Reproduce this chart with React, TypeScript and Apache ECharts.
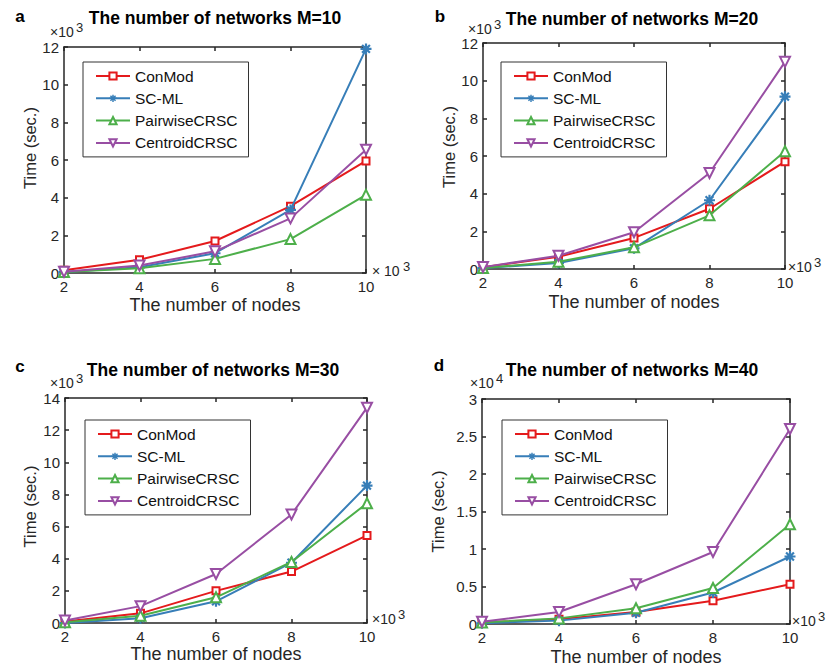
import React, { useEffect, useRef } from 'react';
import * as echarts from 'echarts';

// ---------- data ----------
const nodes = [2, 4, 6, 8, 10]; // ×10^3 nodes
const seriesNames = ['ConMod', 'SC-ML', 'PairwiseCRSC', 'CentroidCRSC'];

// M = 10 (×10^3 sec)
const conModM10 = [0.15, 0.7, 1.7, 3.55, 5.95];
const scmlM10 = [0.05, 0.3, 1.05, 3.35, 11.9];
const pairwiseM10 = [0.05, 0.25, 0.75, 1.8, 4.15];
const centroidM10 = [0.06, 0.4, 1.15, 2.9, 6.55];

// M = 20 (×10^3 sec)
const conModM20 = [0.1, 0.65, 1.65, 3.2, 5.7];
const scmlM20 = [0.05, 0.32, 1.1, 3.65, 9.15];
const pairwiseM20 = [0.05, 0.38, 1.15, 2.85, 6.25];
const centroidM20 = [0.1, 0.7, 1.95, 5.1, 11.0];

// M = 30 (×10^3 sec)
const conModM30 = [0.1, 0.6, 2.0, 3.2, 5.45];
const scmlM30 = [0.0, 0.3, 1.35, 3.75, 8.55];
const pairwiseM30 = [0.05, 0.45, 1.6, 3.8, 7.45];
const centroidM30 = [0.15, 1.05, 3.05, 6.75, 13.4];

// M = 40 (×10^4 sec)
const conModM40 = [0.02, 0.065, 0.16, 0.31, 0.53];
const scmlM40 = [0.01, 0.045, 0.15, 0.42, 0.9];
const pairwiseM40 = [0.02, 0.075, 0.21, 0.48, 1.33];
const centroidM40 = [0.03, 0.16, 0.53, 0.96, 2.6];

const panelTitles = [
  'The number of networks M=10',
  'The number of networks M=20',
  'The number of networks M=30',
  'The number of networks M=40',
];
const panelLetters = ['a', 'b', 'c', 'd'];
const yMaxes = [12, 12, 14, 3];
const yIntervals = [2, 2, 2, 0.5];
const yExponents = ['3', '3', '3', '4'];
const xExponent = '3';
const xAxisName = 'The number of nodes';
const yAxisName = 'Time (sec.)';

const panelData = [
  [conModM10, scmlM10, pairwiseM10, centroidM10],
  [conModM20, scmlM20, pairwiseM20, centroidM20],
  [conModM30, scmlM30, pairwiseM30, centroidM30],
  [conModM40, scmlM40, pairwiseM40, centroidM40],
];

// ---------- layout / style ----------
const FONT = '"Liberation Sans", Arial, Helvetica, sans-serif';
const AXIS = '#262626';
const COLORS = ['#E41A1C', '#377EB8', '#4DAF4A', '#984EA3'];
const STAR =
  'path://M1 8.2H19V11.8H1Z M8.2 1H11.8V19H8.2Z M4.87 2.33L17.67 15.13L15.13 17.67L2.33 4.87Z M17.67 4.87L4.87 17.67L2.33 15.13L15.13 2.33Z';
const SYMBOLS = ['emptyRect', STAR, 'emptyTriangle', 'emptyTriangle'];
const SIZES = [7, 11, 10, 10];
const ROTATES = [0, 0, 0, 180];

const layouts = [
  {
    grid: { left: 64, top: 47, width: 302, height: 226 },
    legend: { left: 83, top: 62 },
    title: [215, 18], letter: [20, 16],
    yNameGap: 26, yNamePad: 24, xNameGap: 23,
    yExp: [50, 32], xExp: [372, 271], xExpSpaced: true,
  },
  {
    grid: { left: 483, top: 43, width: 302, height: 226 },
    legend: { left: 501, top: 62 },
    title: [632, 19], letter: [440, 16],
    yNameGap: 23, yNamePad: 18, xNameGap: 24,
    yExp: [468, 29], xExp: [788, 267], xExpSpaced: false,
  },
  {
    grid: { left: 65, top: 398, width: 302, height: 225 },
    legend: { left: 85, top: 420 },
    title: [213, 370], letter: [20, 366],
    yNameGap: 27, yNamePad: 8, xNameGap: 21,
    yExp: [50, 383], xExp: [372, 619], xExpSpaced: false,
  },
  {
    grid: { left: 482, top: 399, width: 308, height: 225 },
    legend: { left: 502, top: 420 },
    title: [632, 370], letter: [439, 365],
    yNameGap: 36, yNamePad: 0, xNameGap: 24,
    yExp: [470, 383], xExp: [792, 621], xExpSpaced: false,
  },
];

function expo(x: number, cy: number, sup: string, spaced: boolean) {
  return {
    type: 'group',
    silent: true,
    children: [
      {
        type: 'text',
        x,
        y: cy,
        style: {
          text: spaced ? '× 10' : '×10',
          font: `14px ${FONT}`,
          fill: AXIS,
          align: 'left',
          verticalAlign: 'middle',
          textAlign: 'left',
          textVerticalAlign: 'middle',
        },
      },
      {
        type: 'text',
        x: x + (spaced ? 31 : 26),
        y: cy - 5,
        style: {
          text: sup,
          font: `13px ${FONT}`,
          fill: AXIS,
          align: 'left',
          verticalAlign: 'middle',
          textAlign: 'left',
          textVerticalAlign: 'middle',
        },
      },
    ],
  };
}

function buildOption() {
  const grid: any[] = [];
  const xAxis: any[] = [];
  const yAxis: any[] = [];
  const legend: any[] = [];
  const series: any[] = [];
  const graphic: any[] = [];

  layouts.forEach((L, i) => {
    grid.push({ ...L.grid, containLabel: false });
    const lineStyle = { color: AXIS, width: 1.5 };
    const tick = { show: true, inside: true, length: 4, lineStyle: { color: AXIS, width: 1.5 } };
    const label = { fontFamily: FONT, fontSize: 15, color: AXIS };

    xAxis.push({
      gridIndex: i, type: 'value', min: 2, max: 10, interval: 2, position: 'bottom',
      axisLine: { onZero: false, lineStyle },
      axisTick: tick,
      axisLabel: { ...label, margin: 6 },
      splitLine: { show: false },
      name: xAxisName, nameLocation: 'middle', nameGap: L.xNameGap,
      nameTextStyle: { fontFamily: FONT, fontSize: 18, color: AXIS },
    });
    xAxis.push({
      gridIndex: i, type: 'value', min: 2, max: 10, interval: 2, position: 'top',
      axisLine: { onZero: false, lineStyle },
      axisTick: tick,
      axisLabel: { show: false },
      splitLine: { show: false },
    });
    yAxis.push({
      gridIndex: i, type: 'value', min: 0, max: yMaxes[i], interval: yIntervals[i], position: 'left',
      axisLine: { show: true, onZero: false, lineStyle },
      axisTick: tick,
      axisLabel: { ...label, margin: 5 },
      splitLine: { show: false },
      name: yAxisName, nameLocation: 'middle', nameGap: L.yNameGap,
      nameTextStyle: { fontFamily: FONT, fontSize: 16.5, color: AXIS, padding: [0, 0, 0, L.yNamePad] },
    });
    yAxis.push({
      gridIndex: i, type: 'value', min: 0, max: yMaxes[i], interval: yIntervals[i], position: 'right',
      axisLine: { show: true, onZero: false, lineStyle },
      axisTick: tick,
      axisLabel: { show: false },
      splitLine: { show: false },
    });

    legend.push({
      orient: 'vertical',
      left: L.legend.left,
      top: L.legend.top,
      data: seriesNames,
      itemWidth: 34,
      itemHeight: 9,
      itemGap: 6.3,
      padding: [6, 11, 6, 12],
      borderColor: '#333',
      borderWidth: 1,
      backgroundColor: '#fff',
      selectedMode: false,
      textStyle: { fontFamily: FONT, fontSize: 15.5, color: '#111', lineHeight: 16 },
    });

    panelData[i].forEach((vals, k) => {
      series.push({
        type: 'line',
        name: seriesNames[k],
        xAxisIndex: 2 * i,
        yAxisIndex: 2 * i,
        data: nodes.map((x, j) => [x, vals[j]]),
        symbol: SYMBOLS[k],
        symbolSize: SIZES[k],
        symbolRotate: ROTATES[k],
        showAllSymbol: true,
        clip: false,
        z: 2 + k,
        lineStyle: { color: COLORS[k], width: 2 },
        itemStyle: { color: COLORS[k], borderColor: COLORS[k], borderWidth: k === 1 ? 0 : 1.5 },
        emphasis: { disabled: true },
      });
    });

    graphic.push({
      type: 'text', x: L.title[0], y: L.title[1], silent: true,
      style: {
        text: panelTitles[i], font: `bold 17.5px ${FONT}`, fill: '#000',
        align: 'center', verticalAlign: 'middle', textAlign: 'center', textVerticalAlign: 'middle',
      },
    });
    graphic.push({
      type: 'text', x: L.letter[0], y: L.letter[1], silent: true,
      style: {
        text: panelLetters[i], font: `bold 17px ${FONT}`, fill: '#000',
        align: 'center', verticalAlign: 'middle', textAlign: 'center', textVerticalAlign: 'middle',
      },
    });
    graphic.push(expo(L.yExp[0], L.yExp[1], yExponents[i], false));
    graphic.push(expo(L.xExp[0], L.xExp[1], xExponent, L.xExpSpaced));
  });

  return {
    animation: false,
    backgroundColor: '#fff',
    textStyle: { fontFamily: FONT },
    grid,
    xAxis,
    yAxis,
    legend,
    series,
    graphic,
  };
}

export default function App() {
  const ref = useRef<HTMLDivElement>(null);
  useEffect(() => {
    if (!ref.current) return;
    const chart = echarts.init(ref.current, undefined, { renderer: 'svg' });
    chart.setOption(buildOption() as any);
    return () => chart.dispose();
  }, []);
  return (
    <div
      ref={ref}
      style={{ position: 'absolute', left: 0, top: 0, width: 829, height: 670, background: '#fff' }}
    />
  );
}
